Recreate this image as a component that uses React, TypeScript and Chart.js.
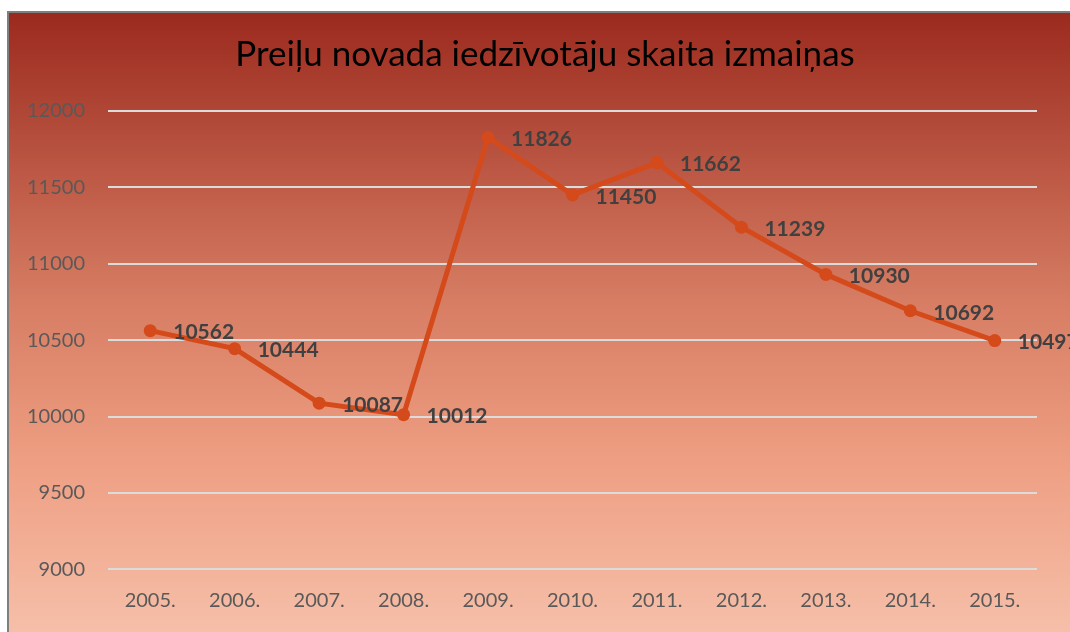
import React, { useEffect, useRef } from "react";
import { Chart, registerables } from "chart.js";

Chart.register(...registerables);

const categories = ["2005.", "2006.", "2007.", "2008.", "2009.", "2010.", "2011.", "2012.", "2013.", "2014.", "2015."];
const population = [10562, 10444, 10087, 10012, 11826, 11450, 11662, 11239, 10930, 10692, 10497];
const yMin = 9000;
const yMax = 12000;
const yStep = 500;
const titleText = "Preiļu novada iedzīvotāju skaita izmaiņas";

const FONT = "Lato, 'Open Sans', sans-serif";
const W = 1061;
const H = 619;

const bgPlugin = {
  id: "bgGradient",
  beforeDraw(chart: any) {
    const { ctx } = chart;
    const g = ctx.createLinearGradient(0, 0, 0, H);
    g.addColorStop(0, "#9B2A1E");
    g.addColorStop(0.46, "#D67C63");
    g.addColorStop(0.72, "#EE9E82");
    g.addColorStop(1, "#F6BFA9");
    ctx.save();
    ctx.fillStyle = g;
    ctx.fillRect(0, 0, chart.width, chart.height);
    ctx.restore();
  },
};

const titlePlugin = {
  id: "centeredTitle",
  afterDraw(chart: any) {
    const { ctx } = chart;
    ctx.save();
    ctx.font = `35px ${FONT}`;
    ctx.fillStyle = "#000000";
    ctx.textAlign = "center";
    ctx.textBaseline = "middle";
    ctx.fillText(titleText, 536, 42);
    ctx.restore();
  },
};

const labelPlugin = {
  id: "pointLabels",
  afterDatasetsDraw(chart: any) {
    const { ctx } = chart;
    const meta = chart.getDatasetMeta(0);
    const data = chart.data.datasets[0].data as number[];
    ctx.save();
    ctx.font = `bold 21px ${FONT}`;
    ctx.fillStyle = "#404040";
    ctx.textAlign = "left";
    ctx.textBaseline = "middle";
    meta.data.forEach((p: any, i: number) => {
      ctx.fillText(String(data[i]), p.x + 23, p.y + 2);
    });
    ctx.restore();
  },
};

export default function App() {
  const ref = useRef<HTMLCanvasElement>(null);
  useEffect(() => {
    if (!ref.current) return;
    const chart = new Chart(ref.current, {
      type: "line",
      data: {
        labels: categories,
        datasets: [
          {
            data: population,
            borderColor: "#D54A1A",
            backgroundColor: "#D54A1A",
            borderWidth: 5,
            pointRadius: 6.5,
            pointHoverRadius: 6.5,
            pointBackgroundColor: "#D54A1A",
            pointBorderWidth: 0,
            tension: 0,
          },
        ],
      },
      options: {
        responsive: false,
        animation: false,
        layout: { padding: { left: 0, right: 33, top: 97.9, bottom: 0 } },
        plugins: {
          legend: { display: false },
          tooltip: { enabled: false },
          title: { display: false },
        },
        scales: {
          x: {
            offset: true,
            grid: { display: false, drawTicks: false },
            border: { display: false },
            ticks: {
              color: "#595959",
              font: { family: FONT, size: 20 },
              padding: 19,
              maxRotation: 0,
            },
            afterFit(scale: any) {
              scale.height = 62.7;
            },
          },
          y: {
            min: yMin,
            max: yMax,
            ticks: {
              stepSize: yStep,
              color: "#595959",
              font: { family: FONT, size: 20 },
              padding: 23,
              callback: (v: any) => String(v),
            },
            grid: { color: "#DCDCDC", lineWidth: 2, drawTicks: false },
            border: { display: false },
            afterFit(scale: any) {
              scale.width = 99;
            },
          },
        },
      },
      plugins: [bgPlugin, labelPlugin, titlePlugin],
    });
    return () => chart.destroy();
  }, []);

  return (
    <div
      style={{
        position: "absolute",
        left: 7,
        top: 11,
        width: W,
        height: H,
        borderLeft: "2px solid #7F7F7F",
        borderTop: "2px solid #7F7F7F",
      }}
    >
      <canvas ref={ref} width={W} height={H} style={{ display: "block" }} />
    </div>
  );
}
